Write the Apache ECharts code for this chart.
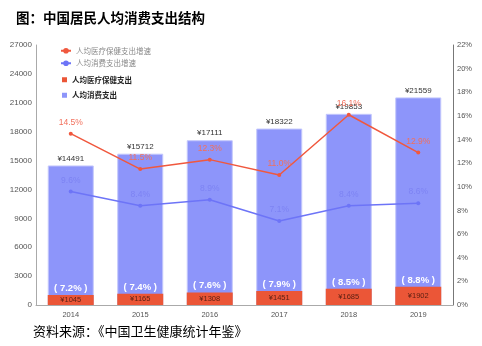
<!DOCTYPE html>
<html><head><meta charset="utf-8">
<script src="https://cdn.jsdelivr.net/npm/echarts@6/dist/echarts.min.js"></script>
<style>html,body{margin:0;padding:0;background:#fff}#c{width:482px;height:346px}</style>
</head><body><div id="c"></div>
<script>
var years = ['2014','2015','2016','2017','2018','2019'];
var consumption = [14491, 15712, 17111, 18322, 19853, 21559];
var health = [1045, 1165, 1308, 1451, 1685, 1902];
var healthShare = [7.2, 7.4, 7.6, 7.9, 8.5, 8.8];
var healthGrowth = [14.5, 11.5, 12.3, 11.0, 16.1, 12.9];
var consumptionGrowth = [9.6, 8.4, 8.9, 7.1, 8.4, 8.6];
var leftTicks = {min: 0, max: 27000, interval: 3000};
var rightTicks = {min: 0, max: 22, interval: 2};

var BLUE_BAR = '#8d95fa', RED_BAR = '#eb5637', RED_LINE = '#f0583e', BLUE_LINE = '#6d74f7';
var font = 'Arial, "Liberation Sans", "Noto Sans CJK SC", sans-serif';
var chart = echarts.init(document.getElementById('c'), null, {renderer: 'canvas'});
chart.setOption({
  animation: false,
  textStyle: {fontFamily: font},
  title: [
    {text: '图：中国居民人均消费支出结构', left: 11, top: 6,
     textStyle: {fontSize: 13.5, fontWeight: 'bold', color: '#000', fontFamily: '"Noto Sans CJK SC", sans-serif'}},
    {text: '资料来源：《中国卫生健康统计年鉴》', left: 28, top: 320,
     textStyle: {fontSize: 13, fontWeight: 'normal', color: '#000', fontFamily: '"Noto Sans CJK SC", sans-serif'}}
  ],
  legend: [
    {orient: 'vertical', left: 55, top: 42, itemGap: 5, itemWidth: 10, itemHeight: 7,
     data: ['人均医疗保健支出增速', '人均消费支出增速'],
     textStyle: {fontSize: 7.5, color: '#888', fontFamily: '"Noto Sans CJK SC", sans-serif'}},
    {orient: 'vertical', left: 57, top: 71, itemWidth: 5, itemHeight: 5, itemGap: 8,
     itemStyle: {borderWidth: 0},
     data: [{name: '人均医疗保健支出', icon: 'rect'}, {name: '人均消费支出', icon: 'rect'}],
     textStyle: {fontSize: 7.5, color: '#222', fontWeight: 'bold', fontFamily: '"Noto Sans CJK SC", sans-serif'}}
  ],
  grid: {left: 36, right: 29, top: 45, bottom: 41, containLabel: false},
  xAxis: {
    type: 'category', data: years,
    axisLine: {lineStyle: {color: '#aaa'}},
    axisTick: {show: false},
    axisLabel: {fontSize: 7.5, color: '#555', margin: 6}
  },
  yAxis: [
    {type: 'value', min: leftTicks.min, max: leftTicks.max, interval: leftTicks.interval,
     axisLine: {show: true, lineStyle: {color: '#aaa'}},
     axisTick: {show: false},
     splitLine: {show: false},
     axisLabel: {fontSize: 8, color: '#555', margin: 4, formatter: function (v) { return String(v); }}},
    {type: 'value', min: rightTicks.min, max: rightTicks.max, interval: rightTicks.interval,
     position: 'right',
     axisLine: {show: true, lineStyle: {color: '#777'}},
     axisTick: {show: false},
     splitLine: {show: false},
     axisLabel: {fontSize: 7.5, color: '#555', margin: 4, formatter: '{value}%'}}
  ],
  series: [
    {name: '人均消费支出', type: 'bar', data: consumption, barWidth: 46, barGap: '-100%',
     itemStyle: {color: BLUE_BAR, borderColor: '#c3c7fc', borderWidth: 1},
     label: {show: true, position: 'top', distance: 3, fontSize: 8, color: '#333',
       formatter: function (p) { return '¥' + p.value; }}, z: 2},
    {name: '人均医疗保健支出', type: 'bar', data: health, barWidth: 46, barGap: '-100%',
     itemStyle: {color: RED_BAR},
     label: {show: true, position: 'inside', fontSize: 7.5, color: '#5a1f12',
       formatter: function (p) { return '¥' + p.value; }}, z: 3},
    {name: 'share', type: 'bar', data: health, barWidth: 46, barGap: '-100%',
     itemStyle: {color: 'rgba(0,0,0,0)'}, silent: true,
     label: {show: true, position: 'top', distance: 2, fontSize: 9.5, fontWeight: 'bold', color: '#fff',
       formatter: function (p) { return '( ' + healthShare[p.dataIndex].toFixed(1) + '% )'; }}, z: 4},
    {name: '人均医疗保健支出增速', type: 'line', yAxisIndex: 1, data: healthGrowth,
     symbol: 'circle', symbolSize: 4, lineStyle: {color: RED_LINE, width: 1.5},
     itemStyle: {color: RED_LINE},
     label: {show: true, position: 'top', distance: 5, fontSize: 8.5, color: '#f2705c',
       formatter: function (p) { return p.value.toFixed(1) + '%'; }}, z: 5},
    {name: '人均消费支出增速', type: 'line', yAxisIndex: 1, data: consumptionGrowth,
     symbol: 'circle', symbolSize: 4, lineStyle: {color: BLUE_LINE, width: 1.5},
     itemStyle: {color: BLUE_LINE},
     label: {show: true, position: 'top', distance: 5, fontSize: 8.5, color: '#7d83f3',
       formatter: function (p) { return p.value.toFixed(1) + '%'; }}, z: 5}
  ]
});
</script></body></html>
